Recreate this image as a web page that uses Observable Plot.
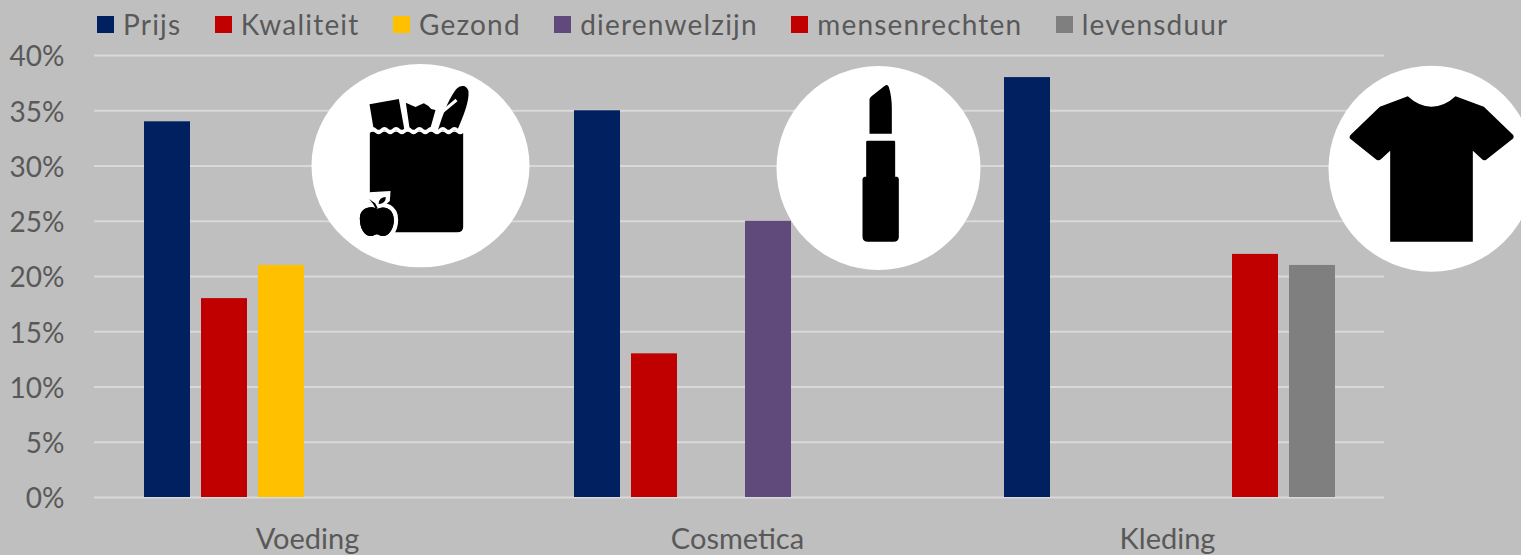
<!DOCTYPE html>
<html>
<head>
<meta charset="utf-8">
<script src="https://cdn.jsdelivr.net/npm/d3@7"></script>
<script src="https://cdn.jsdelivr.net/npm/@observablehq/plot@0.6"></script>
<style>
html,body{margin:0;padding:0;background:#BFBFBF;overflow:hidden;width:1521px;height:555px;}
#legend{height:30px;box-sizing:border-box;padding:9px 0 0 97px;display:flex;align-items:flex-start;font:28px Lato,sans-serif;color:#595959;letter-spacing:1.2px;white-space:nowrap;}
#legend .item{display:flex;align-items:center;height:30px;margin-right:33.4px;}
#legend i{display:block;width:17px;height:17px;margin-right:9px;}
svg{display:block;}
</style>
</head>
<body>
<div id="legend"></div>
<div id="chart"></div>
<script>
const series = ["Prijs","Kwaliteit","Gezond","dierenwelzijn","mensenrechten","levensduur"];
const colors = ["#002060","#C00000","#FFC000","#604A7B","#C00000","#7F7F7F"];
const groups = ["Voeding","Cosmetica","Kleding"];
const voeding = [34,18,21,null,null,null];
const cosmetica = [35,13,null,25,null,null];
const kleding = [38,null,null,null,22,21];
const yTicks = [0,5,10,15,20,25,30,35,40];

const rows = [voeding,cosmetica,kleding].flatMap((vals,g) =>
  vals.map((v,i) => ({group:groups[g], series:series[i], value:v})).filter(d => d.value != null));

const svgUri = (vb, body) => "data:image/svg+xml," + encodeURIComponent(
  `<svg xmlns="http://www.w3.org/2000/svg" viewBox="${vb}">${body}</svg>`);

const wave = "q8.75 -8 17.5 0 t17.5 0 t17.5 0 t17.5 0 t17.5 0 t17.5 0 t17.5 0 t17.5 0 t17.5 0 t17.5 0 t17.5 0 t17.5 0 t17.5 0 t17.5 0 t17.5 0 t17.5 0";
const iconFood = svgUri("0 0 720 660", `
<ellipse cx="360" cy="332" rx="327" ry="305" fill="#fff"/>
<path d="M207 148L295 132L312 226L220 226Z"/>
<path d="M316 143Q332 150 345 156Q358 150 370 145Q385 152 392 162L405 165L388 226L328 226Z"/>
<path d="M412 226C425 185 440 140 465 105C478 88 500 88 504 110C506 140 490 180 470 226Z"/>
<path d="M392 226L412 182L468 135" fill="none" stroke="#fff" stroke-width="9"/>
<path d="M208 225${wave}" fill="none" stroke="#fff" stroke-width="9"/>
<path d="M208 234${wave}L488 515Q488 532 470 532L240 532L208 480Z"/>
<path d="M230 462C250 450 280 460 280 495C280 525 262 545 245 543C238 543 234 538 229 538C224 538 220 543 212 543C195 545 178 525 178 490C178 460 210 450 230 462Z" stroke="#fff" stroke-width="26" paint-order="stroke"/>
<path d="M206 412L270 408L268 438L240 462L205 440Z" fill="#fff"/>
<path d="M230 462C250 450 280 460 280 495C280 525 262 545 245 543C238 543 234 538 229 538C224 538 220 543 212 543C195 545 178 525 178 490C178 460 210 450 230 462Z"/>
<path d="M206 432L224 445L232 460L226 462L218 447Z"/>
<path d="M234 447Q236 426 256 426Q256 446 234 447Z"/>
`);
const iconLip = svgUri("0 0 660 660", `
<circle cx="327" cy="339" r="306" fill="#fff"/>
<path d="M300 236L300 132Q302 127 306 124L346 92Q354 86 358 96Q367 125 367 160L367 236Z"/>
<path d="M294 257L373 257Q377 257 377 261L377 365L383 365Q388 367 388 373L388 545Q388 560 372 560L296 560Q279 560 279 545L279 373Q279 367 285 365L290 365L290 261Q290 257 294 257Z"/>
`);
const iconShirt = svgUri("0 0 660 660", `
<circle cx="333" cy="341" r="309" fill="#fff"/>
<path d="M262 124Q295 155 333 155Q372 155 405 124L490 155L578 240Q582 248 575 253L497 314Q490 318 484 312L457 287L457 560L209 560L209 287L182 312Q176 318 168 314L91 253Q84 248 90 240L178 155Z"/>
`);

const iconLevel = [30,30,30];
const iconAnchor = ["mensenrechten","levensduur","levensduur"];
const iconSrc = [iconFood,iconLip,iconShirt];
const iconShift = [25,-3,118];
const iconW = [240,220,220];

const legend = d3.select("#legend");
series.forEach((s,i) => {
  const it = legend.append("div").attr("class","item");
  it.append("i").style("background",colors[i]);
  it.append("span").text(s);
});

const chart = Plot.plot({
  width:1521, height:525,
  marginLeft:94, marginRight:137, marginTop:25, marginBottom:58,
  style:{background:"transparent", fontFamily:"Lato,sans-serif"},
  fx:{domain:groups, padding:0, axis:null, label:null},
  x:{domain:series, paddingInner:0.2, paddingOuter:0.85, axis:null, label:null},
  y:{domain:[0,40], label:null, axis:null},
  color:{domain:series, range:colors},
  marks:[
    Plot.ruleY(yTicks, {y:d=>d, stroke:"#D9D9D9", strokeWidth:2}),
    Plot.barY(rows, {fx:"group", x:"series", y:"value", fill:"series"}),
    ...groups.map((g,i) => Plot.image([{group:g, anchor:iconAnchor[i], level:iconLevel[i], src:iconSrc[i]}], {
      fx:"group", x:"anchor", y:"level", src:"src", width:iconW[i], height:220, dx:iconShift[i], dy:-1
    })),
    Plot.axisY({ticks:yTicks, tickSize:0, tickPadding:30, anchor:"left", label:null, tickFormat:d=>d+"%", fontSize:28, fill:"#595959", dy:2, facetAnchor:"left"}),
    Plot.axisFx({anchor:"bottom", tickSize:0, tickPadding:31, label:null, fontSize:29, fill:"#595959", dx:-2})
  ]
});
document.getElementById("chart").append(chart);
</script>
</body>
</html>
